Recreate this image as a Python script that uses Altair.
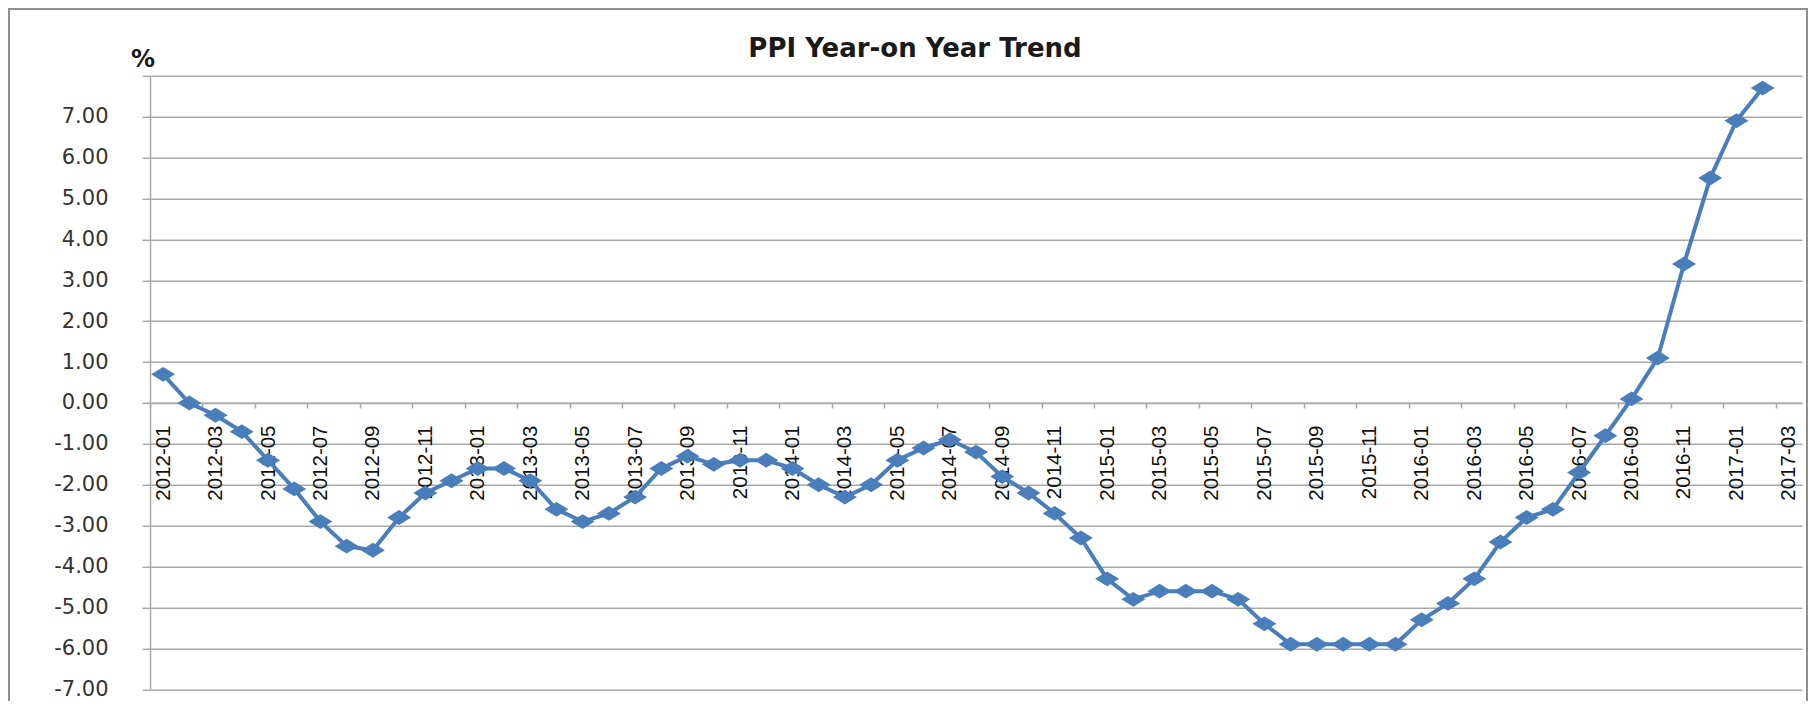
import altair as alt
import pandas as pd

# ---- data ----
categories = [f"{y}-{m:02d}" for y in range(2012, 2018) for m in range(1, 13)][:63]  # 2012-01 .. 2017-03
ppi = [
    0.7, 0.0, -0.3, -0.7, -1.4, -2.1, -2.9, -3.5, -3.6, -2.8, -2.2, -1.9,   # 2012
    -1.6, -1.6, -1.9, -2.6, -2.9, -2.7, -2.3, -1.6, -1.3, -1.5, -1.4, -1.4, # 2013
    -1.6, -2.0, -2.3, -2.0, -1.4, -1.1, -0.9, -1.2, -1.8, -2.2, -2.7, -3.3, # 2014
    -4.3, -4.8, -4.6, -4.6, -4.6, -4.8, -5.4, -5.9, -5.9, -5.9, -5.9, -5.9, # 2015
    -5.3, -4.9, -4.3, -3.4, -2.8, -2.6, -1.7, -0.8, 0.1, 1.1, 3.4, 5.5,     # 2016
    6.9, 7.7,                                                              # 2017
]
x_tick_labels = categories[::2]
y_ticks = list(range(-7, 9))
title_text = "PPI Year-on Year Trend"
unit_text = "%"

df = pd.DataFrame({"month": categories[:len(ppi)], "value": ppi})

W, H = 1652, 613.5
step = W / len(categories)
y_zero = H * 8 / 15
grid_col = "#a8a8a8"
blue = "#4a7ebb"

x_enc = alt.X(
    "month:O",
    sort=categories,
    scale=alt.Scale(domain=categories, type="point", padding=0.5),
    axis=alt.Axis(
        values=x_tick_labels,
        title=None,
        grid=False,
        offset=-(H - y_zero),
        domainColor=grid_col,
        domainWidth=1.5,
        tickColor=grid_col,
        tickWidth=1.5,
        tickSize=5,
        tickOffset=-step / 2,
        labelOffset=step / 2,
        labelAngle=-90,
        labelAlign="right",
        labelBaseline="middle",
        labelPadding=17,
        labelFont="Liberation Sans",
        labelFontSize=20.5,
        labelColor="#111111",
        labelOverlap=False,
    ),
)
y_enc = alt.Y(
    "value:Q",
    scale=alt.Scale(domain=[-7, 8], nice=False, zero=False),
    axis=alt.Axis(
        values=y_ticks,
        title=None,
        grid=True,
        gridColor=grid_col,
        gridWidth=1.5,
        domainColor=grid_col,
        domainWidth=1.5,
        tickColor=grid_col,
        tickWidth=1.5,
        tickSize=8,
        labelExpr="datum.value == 8 ? '' : (datum.value < 0 ? '-' : '') + format(abs(datum.value), '.2f')",
        labelPadding=34,
        labelFont="DejaVu Sans",
        labelFontSize=21,
        labelColor="#333333",
        labelOverlap=False,
    ),
)

base = alt.Chart(df)
line = base.mark_line(color=blue, strokeWidth=4).encode(x=x_enc, y=y_enc)
points = base.mark_point(
    shape="M-1,0L0,-0.62L1,0L0,0.62Z", size=576, filled=True, color=blue, opacity=1
).encode(x=x_enc, y=y_enc)

frame = alt.Chart(pd.DataFrame({"k": [0]})).mark_rect(
    fillOpacity=0, stroke="#8f8f8f", strokeWidth=2
).encode(x=alt.value(-141), x2=alt.value(W + 5), y=alt.value(-66.8), y2=alt.value(H + 60))

title = alt.Chart(pd.DataFrame({"t": [title_text]})).mark_text(
    font="DejaVu Sans", fontWeight="bold", fontSize=26, color="#1a1a1a",
    align="center", baseline="alphabetic"
).encode(text="t:N", x=alt.value(765), y=alt.value(-18.8))

unit = alt.Chart(pd.DataFrame({"t": [unit_text]})).mark_text(
    font="DejaVu Sans", fontWeight="bold", fontSize=24, color="#1a1a1a",
    align="center", baseline="alphabetic"
).encode(text="t:N", x=alt.value(-7), y=alt.value(-8.8))

chart = alt.layer(frame, line, points, title, unit).properties(
    width=W,
    height=H,
    padding={"left": 142, "top": 67.8, "right": 6, "bottom": 12},
    autosize=alt.AutoSizeParams(type="none"),
    background="white",
).configure_view(stroke=None)

chart.save("out.html", embed_options={"renderer": "svg", "actions": False})
